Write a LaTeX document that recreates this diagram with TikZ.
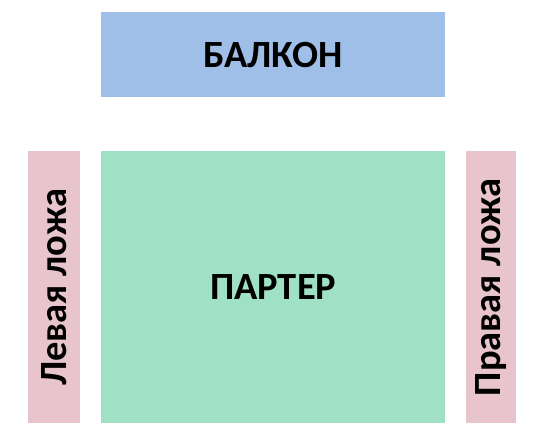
\documentclass[tikz,border=0pt]{standalone}
\usepackage{fontspec}
\setmainfont{Carlito}
\definecolor{balc}{RGB}{160,191,232}
\definecolor{part}{RGB}{160,224,196}
\definecolor{loge}{RGB}{232,196,204}
\tikzset{
  zone/.style={draw=none, inner sep=0pt, anchor=north west},
  lbl/.style={font=\bfseries\fontsize{38.5}{38.5}\selectfont, text=black},
}
\begin{document}
\begin{tikzpicture}[x=1pt,y=-1pt]
\useasboundingbox (0,0) rectangle (539,440);
\node[zone, fill=balc, minimum width=344pt, minimum height=85pt] (balcony) at (101,12) {};
\node[zone, fill=part, minimum width=344pt, minimum height=272pt] (parterre) at (101,151) {};
\node[zone, fill=loge, minimum width=52pt, minimum height=272pt] (left) at (28,151) {};
\node[zone, fill=loge, minimum width=50pt, minimum height=272pt] (right) at (466,151) {};
\node[lbl] (tb) at (balcony.center) {БАЛКОН};
\node[lbl] (tp) at (parterre.center) {ПАРТЕР};
\node[lbl, rotate=90] (tl) at (left.center) {Левая ложа};
\node[lbl, rotate=90] (tr) at (right.center) {Правая ложа};
\end{tikzpicture}
\end{document}
